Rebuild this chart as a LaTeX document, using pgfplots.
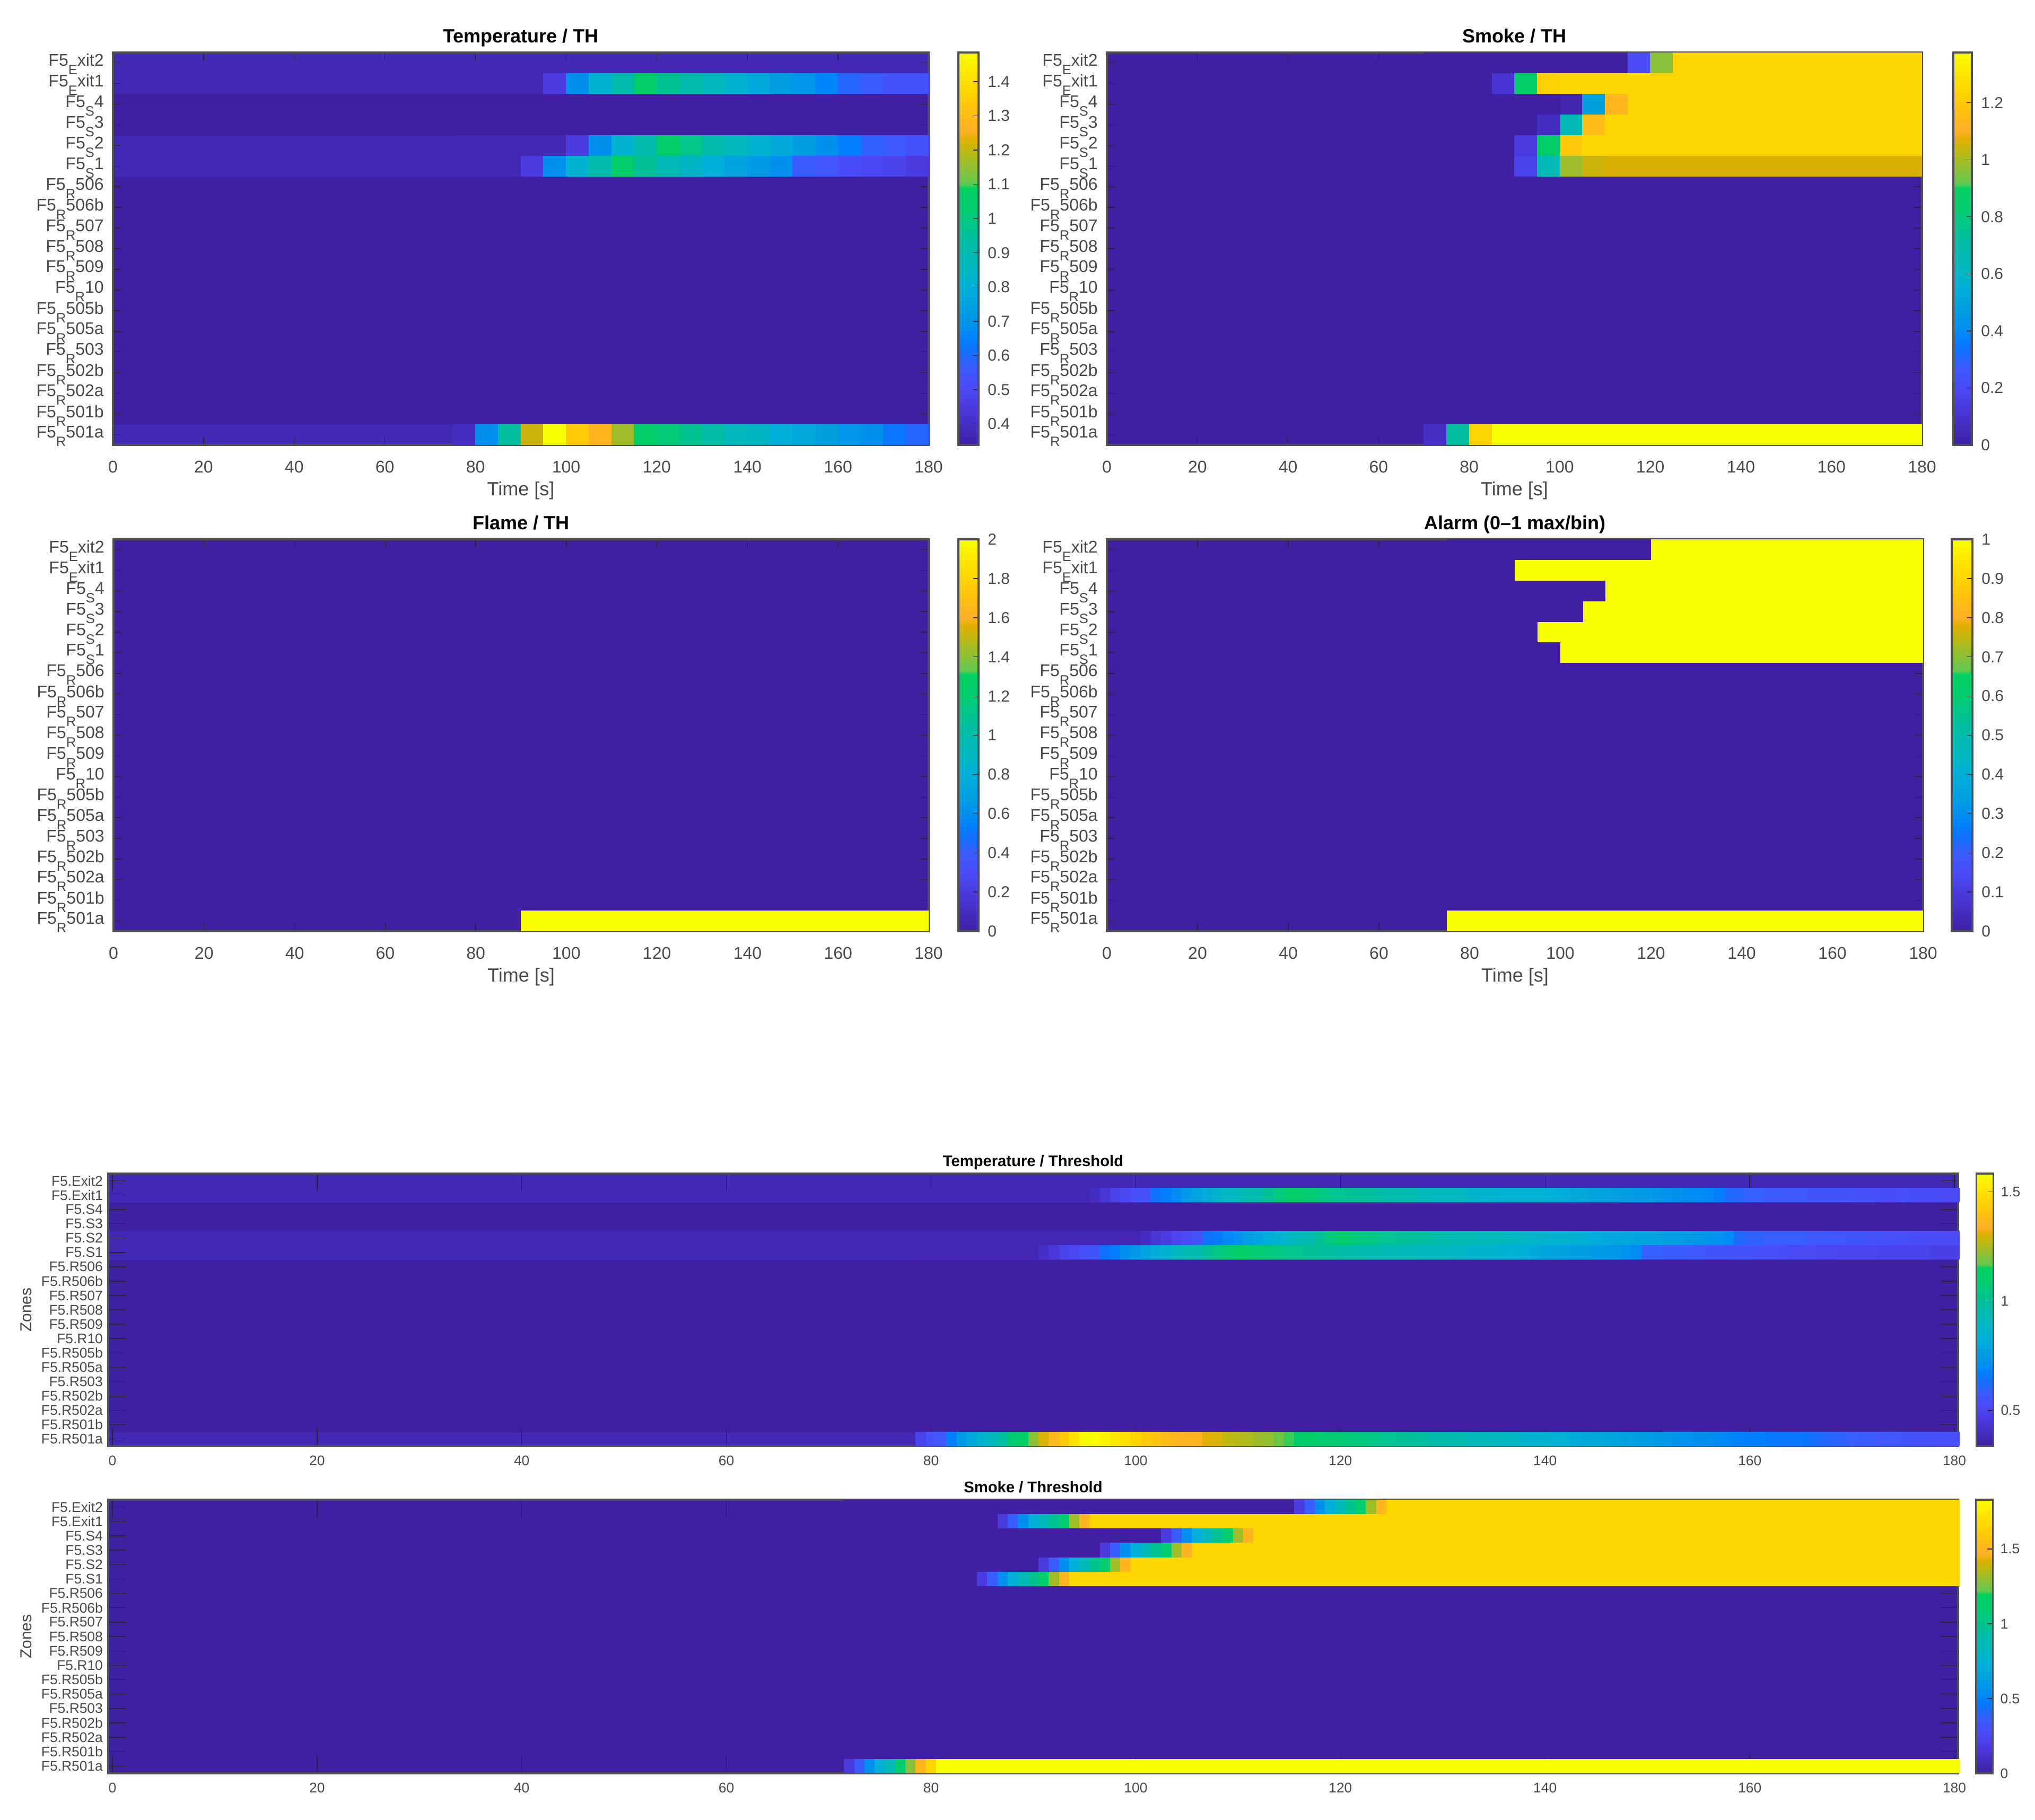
\documentclass[border=0pt]{standalone}
\usepackage{fontspec}
\setmainfont{Liberation Sans}
\usepackage{pgfplots}
\usepackage{pgfplotstable}
\pgfplotsset{compat=1.18}
\definecolor{lbl}{HTML}{484848}
\definecolor{tk}{HTML}{262626}
\definecolor{ax}{HTML}{505050}
\newcommand\sub[1]{\smash{\raisebox{-.5em}{\scalebox{.8}{#1}}}}
\newdimen\cellw \newdimen\cellh \newdimen\bandw
\pgfdeclareplotmark{cell}{\pgfpathrectangle{\pgfpoint{-\cellw}{-\cellh}}{\pgfpoint{2\cellw}{2\cellh}}\pgfusepathqfill}
\pgfdeclareplotmark{band}{\pgfpathrectangle{\pgfpoint{-\bandw}{-\cellh}}{\pgfpoint{2\bandw}{2\cellh}}\pgfusepathqfill}
\newcommand\cells[3]{\addplot[scatter,only marks,mark=cell,scatter src=explicit] table[x=t,y expr=#1,meta=#2]{#3};}
\pgfplotsset{
 colormap={cb}{rgb255(0pt)=(64,31,163); rgb255(10pt)=(74,59,224); rgb255(15pt)=(75,76,248); rgb255(20pt)=(58,92,255); rgb255(24pt)=(16,112,255); rgb255(27pt)=(0,128,255); rgb255(30pt)=(0,144,240); rgb255(35pt)=(0,160,224); rgb255(40pt)=(0,176,216); rgb255(45pt)=(0,184,192); rgb255(50pt)=(0,188,172); rgb255(55pt)=(0,196,144); rgb255(60pt)=(0,204,112); rgb255(65.5pt)=(0,208,96); rgb255(66.5pt)=(96,200,80); rgb255(70pt)=(136,192,56); rgb255(75pt)=(192,184,16); rgb255(78pt)=(224,176,0); rgb255(80pt)=(255,176,40); rgb255(85pt)=(255,192,16); rgb255(90pt)=(255,213,0); rgb255(95pt)=(255,232,0); rgb255(100pt)=(248,255,0)},
 heat/.style n args={4}{
  anchor=north west, scale only axis, at={(#1*0.25pt,-#2*0.25pt)},
  width={(#3-#1)*0.25pt}, height={(#4-#2)*0.25pt},
  ymin=0.5, ymax=19.5, ytick={1,...,19},
  xtick={0,20,...,180}, tick align=inside, tick pos=both, axis on top,
  /pgf/number format/assume math mode=true,
  axis line style={color=ax,line width=.8pt},
  tick style={color=tk,line width=.35pt},
  tick label style={color=lbl},
  title style={font=\fontsize{9}{10}\selectfont\bfseries,color=black},
  colorbar,
 },
 upper/.style={xmin=0,xmax=180,major tick length=3.75pt,
  tick label style={font=\fontsize{8}{9}\selectfont},
  xlabel={Time [s]},
  xlabel style={font=\fontsize{9}{10}\selectfont,color=lbl,at={(axis description cs:.5,-.1168)},anchor=center},
  title style={at={(axis description cs:.5,1)},anchor=base,yshift=-1.3pt},
  xticklabel style={yshift=-4pt},
  yticklabel style={xshift=-.8pt,yshift=1.25pt},
  yticklabels={F5\sub{R}501a,F5\sub{R}501b,F5\sub{R}502a,F5\sub{R}502b,F5\sub{R}503,F5\sub{R}505a,F5\sub{R}505b,F5\sub{R}10,F5\sub{R}509,F5\sub{R}508,F5\sub{R}507,F5\sub{R}506b,F5\sub{R}506,F5\sub{S}1,F5\sub{S}2,F5\sub{S}3,F5\sub{S}4,F5\sub{E}xit1,F5\sub{E}xit2},
 },
 lower/.style={xmin=-0.41,xmax=180.36,major tick length=8.25pt,
  tick label style={font=\fontsize{6.6}{8}\selectfont},
  title style={font=\fontsize{7.3}{8.5}\selectfont\bfseries,at={(axis description cs:.5,1)},anchor=base,yshift=-2.5pt},
  xticklabel style={yshift=-1pt},
  yticklabel style={xshift=1pt},
  ylabel={Zones},
  ylabel style={font=\fontsize{7.5}{9}\selectfont,color=lbl,at={(axis description cs:-.0444,.5)},anchor=center},
  yticklabels={F5.R501a,F5.R501b,F5.R502a,F5.R502b,F5.R503,F5.R505a,F5.R505b,F5.R10,F5.R509,F5.R508,F5.R507,F5.R506b,F5.R506,F5.S1,F5.S2,F5.S3,F5.S4,F5.Exit1,F5.Exit2},
 },
 cbs/.style n args={3}{
  colorbar shift/.style={xshift=#1*0.25pt},
  colorbar style={width=#2*0.25pt, ytick={#3}, ytick pos=right, tick align=inside, major tick length=2.5pt,
   /pgf/number format/assume math mode=true,
   /pgf/number format/fixed,
   axis line style={color=ax,line width=.8pt},
   tick style={color=tk,line width=.35pt},
   yticklabel style={font=\fontsize{7.5}{9}\selectfont,color=lbl,xshift=.8pt}},
 },
 cbl/.style n args={3}{
  colorbar shift/.style={xshift=#1*0.25pt},
  colorbar style={width=#2*0.25pt, ytick={#3}, ytick pos=right, tick align=inside, major tick length=2.5pt,
   /pgf/number format/assume math mode=true,
   /pgf/number format/fixed,
   axis line style={color=ax,line width=.8pt},
   tick style={color=tk,line width=.35pt},
   yticklabel style={font=\fontsize{6.6}{8}\selectfont,color=lbl}},
 },
}
% per-zone baseline values (two columns spanning the axis, one line per zone and column)
\pgfplotstableread{
x y z p1 p5
44.5 1 0 .373 .374
135.5 1 0 .373 .374
44.5 2 0 .339 .337
135.5 2 0 .339 .337
44.5 3 0 .339 .337
135.5 3 0 .339 .337
44.5 4 0 .339 .337
135.5 4 0 .339 .337
44.5 5 0 .339 .337
135.5 5 0 .339 .337
44.5 6 0 .339 .337
135.5 6 0 .339 .337
44.5 7 0 .339 .337
135.5 7 0 .339 .337
44.5 8 0 .339 .337
135.5 8 0 .339 .337
44.5 9 0 .339 .337
135.5 9 0 .339 .337
44.5 10 0 .339 .337
135.5 10 0 .339 .337
44.5 11 0 .339 .337
135.5 11 0 .339 .337
44.5 12 0 .339 .337
135.5 12 0 .339 .337
44.5 13 0 .339 .337
135.5 13 0 .339 .337
44.5 14 0 .373 .374
135.5 14 0 .373 .374
44.5 15 0 .373 .374
135.5 15 0 .373 .374
44.5 16 0 .339 .337
135.5 16 0 .339 .337
44.5 17 0 .339 .337
135.5 17 0 .339 .337
44.5 18 0 .373 .374
135.5 18 0 .373 .374
44.5 19 0 .373 .374
135.5 19 0 .373 .374
}\bg
% Temperature / TH, 5 s bins
\pgfplotstableread{
t E1 S2 S1 R
77.5 .373 .373 .373 .396
82.5 .373 .373 .373 .683
87.5 .373 .373 .373 .935
92.5 .373 .373 .454 1.21
97.5 .454 .373 .683 1.485
102.5 .683 .454 .82 1.347
107.5 .82 .683 .912 1.279
112.5 .912 .82 1.05 1.164
117.5 1.05 .912 .958 1.061
122.5 .969 1.05 .889 1.015
127.5 .912 .981 .843 .969
132.5 .866 .912 .797 .923
137.5 .82 .866 .752 .866
142.5 .774 .82 .717 .843
147.5 .729 .774 .683 .797
152.5 .706 .729 .568 .774
157.5 .66 .683 .545 .74
162.5 .591 .648 .522 .706
167.5 .568 .58 .499 .683
172.5 .534 .557 .477 .626
177.5 .534 .534 .454 .591
}\pone
% Smoke / TH, 5 s bins
\pgfplotstableread{
t E2 E1 S4 S3 S2 S1 R
72.5 0 0 0 0 0 0 .083
77.5 0 0 0 0 0 0 .716
82.5 0 0 0 0 0 0 1.238
87.5 0 .11 0 0 0 0 1.376
92.5 0 .853 0 0 .138 .165 1.376
97.5 0 1.225 0 .069 .853 .647 1.376
102.5 0 1.238 .028 .66 1.197 .991 1.376
107.5 0 1.238 .482 1.156 1.238 1.046 1.376
112.5 0 1.238 1.128 1.238 1.238 1.066 1.376
117.5 .206 1.238 1.238 1.238 1.238 1.066 1.376
122.5 .963 1.238 1.238 1.238 1.238 1.066 1.376
127.5 1.238 1.238 1.238 1.238 1.238 1.066 1.376
132.5 1.238 1.238 1.238 1.238 1.238 1.066 1.376
137.5 1.238 1.238 1.238 1.238 1.238 1.066 1.376
142.5 1.238 1.238 1.238 1.238 1.238 1.066 1.376
147.5 1.238 1.238 1.238 1.238 1.238 1.066 1.376
152.5 1.238 1.238 1.238 1.238 1.238 1.066 1.376
157.5 1.238 1.238 1.238 1.238 1.238 1.066 1.376
162.5 1.238 1.238 1.238 1.238 1.238 1.066 1.376
167.5 1.238 1.238 1.238 1.238 1.238 1.066 1.376
172.5 1.238 1.238 1.238 1.238 1.238 1.066 1.376
177.5 1.238 1.238 1.238 1.238 1.238 1.066 1.376
}\ptwo
% Flame / TH
\pgfplotstableread{
t R
92.5 2
97.5 2
102.5 2
107.5 2
112.5 2
117.5 2
122.5 2
127.5 2
132.5 2
137.5 2
142.5 2
147.5 2
152.5 2
157.5 2
162.5 2
167.5 2
172.5 2
177.5 2
}\pthree
% Alarm
\pgfplotstableread{
t E2 E1 S4 S3 S2 S1 R
77.5 0 0 0 0 0 0 1
82.5 0 0 0 0 0 0 1
87.5 0 0 0 0 0 0 1
92.5 0 1 0 0 0 0 1
97.5 0 1 0 0 1 0 1
102.5 0 1 0 0 1 1 1
107.5 0 1 0 1 1 1 1
112.5 0 1 1 1 1 1 1
117.5 0 1 1 1 1 1 1
122.5 1 1 1 1 1 1 1
127.5 1 1 1 1 1 1 1
132.5 1 1 1 1 1 1 1
137.5 1 1 1 1 1 1 1
142.5 1 1 1 1 1 1 1
147.5 1 1 1 1 1 1 1
152.5 1 1 1 1 1 1 1
157.5 1 1 1 1 1 1 1
162.5 1 1 1 1 1 1 1
167.5 1 1 1 1 1 1 1
172.5 1 1 1 1 1 1 1
177.5 1 1 1 1 1 1 1
}\pfour
% Temperature / Threshold, 1 s bins
\pgfplotstableread{
t E1 S2 S1 R
79 .37 .37 .37 .49
80 .37 .37 .37 .55
81 .37 .37 .37 .57
82 .37 .37 .37 .67
83 .37 .37 .37 .75
84 .37 .37 .37 .81
85 .37 .37 .37 .86
86 .37 .37 .37 .91
87 .37 .37 .37 .99
88 .37 .37 .37 1.08
89 .37 .37 .37 1.13
90 .37 .37 .37 1.21
91 .37 .37 .41 1.30
92 .37 .37 .45 1.37
93 .37 .37 .49 1.43
94 .37 .37 .51 1.50
95 .37 .37 .54 1.57
96 .40 .37 .56 1.58
97 .44 .37 .64 1.56
98 .49 .37 .67 1.52
99 .51 .37 .71 1.50
100 .54 .37 .75 1.46
101 .55 .40 .79 1.43
102 .64 .44 .82 1.41
103 .67 .47 .86 1.38
104 .70 .50 .90 1.36
105 .75 .52 .94 1.35
106 .79 .55 .96 1.35
107 .82 .64 1.00 1.31
108 .86 .66 1.05 1.30
109 .89 .69 1.08 1.27
110 .91 .72 1.13 1.26
111 .94 .76 1.11 1.25
112 .96 .79 1.08 1.23
113 1.01 .82 1.06 1.22
114 1.06 .86 1.05 1.18
115 1.11 .89 1.03 1.16
116 1.11 .92 1.02 1.11
117 1.08 .96 1.01 1.11
118 1.06 1.01 1.00 1.10
119 1.03 1.06 .99 1.08
120 1.02 1.11 .97 1.08
121 1.01 1.08 .96 1.07
122 1.00 1.06 .95 1.06
123 .99 1.05 .94 1.05
124 .97 1.03 .94 1.03
125 .96 1.02 .93 1.02
126 .95 1.01 .92 1.01
127 .94 1.00 .92 1.00
128 .92 .99 .91 .99
129 .91 .97 .91 .97
130 .90 .96 .90 .96
131 .90 .95 .89 .95
132 .89 .94 .88 .94
133 .87 .94 .87 .92
134 .87 .92 .87 .91
135 .86 .92 .86 .91
136 .85 .91 .85 .90
137 .85 .90 .84 .89
138 .84 .89 .83 .87
139 .84 .88 .81 .86
140 .84 .87 .79 .86
141 .83 .86 .79 .85
142 .82 .86 .78 .84
143 .81 .85 .77 .82
144 .80 .84 .77 .81
145 .79 .82 .75 .81
146 .78 .81 .75 .80
147 .77 .81 .74 .79
148 .76 .80 .72 .78
149 .75 .79 .70 .77
150 .75 .79 .59 .76
151 .74 .78 .59 .75
152 .72 .77 .58 .74
153 .71 .76 .58 .73
154 .70 .75 .58 .72
155 .70 .74 .57 .71
156 .69 .73 .56 .71
157 .67 .72 .56 .70
158 .62 .70 .55 .69
159 .61 .62 .55 .68
160 .59 .60 .55 .67
161 .59 .60 .54 .67
162 .58 .59 .54 .66
163 .58 .59 .53 .65
164 .57 .59 .52 .65
165 .57 .59 .52 .65
166 .56 .58 .52 .64
167 .56 .58 .51 .62
168 .56 .57 .51 .61
169 .55 .57 .50 .60
170 .55 .56 .50 .59
171 .54 .56 .50 .58
172 .54 .55 .50 .58
173 .53 .55 .49 .57
174 .53 .54 .49 .57
175 .54 .54 .49 .56
176 .53 .53 .49 .55
177 .53 .53 .49 .55
178 .53 .53 .48 .54
179 .52 .52 .48 .54
180 .52 .52 .48 .54
}\pfive
% Smoke / Threshold, 1 s bins
\pgfplotstableread{
t E2 E1 S4 S3 S2 S1 R
72 0 0 0 0 0 0 .18
73 0 0 0 0 0 0 .37
74 0 0 0 0 0 0 .55
75 0 0 0 0 0 0 .73
76 0 0 0 0 0 0 .86
77 0 0 0 0 0 0 1.10
78 0 0 0 0 0 0 1.28
79 0 0 0 0 0 0 1.50
80 0 0 0 0 0 0 1.65
81 0 0 0 0 0 0 1.83
82 0 0 0 0 0 0 1.83
83 0 0 0 0 0 0 1.83
84 0 0 0 0 0 0 1.83
85 0 0 0 0 0 .18 1.83
86 0 0 0 0 0 .37 1.83
87 0 .18 0 0 0 .55 1.83
88 0 .37 0 0 0 .73 1.83
89 0 .55 0 0 0 .86 1.83
90 0 .73 0 0 0 1.01 1.83
91 0 .86 0 0 .18 1.13 1.83
92 0 1.01 0 0 .37 1.32 1.83
93 0 1.13 0 0 .55 1.50 1.83
94 0 1.32 0 0 .73 1.65 1.83
95 0 1.50 0 0 .86 1.65 1.83
96 0 1.65 0 0 1.01 1.65 1.83
97 0 1.65 0 .18 1.13 1.65 1.83
98 0 1.65 0 .37 1.32 1.65 1.83
99 0 1.65 0 .55 1.50 1.65 1.83
100 0 1.65 0 .73 1.65 1.65 1.83
101 0 1.65 0 .86 1.65 1.65 1.83
102 0 1.65 0 1.01 1.65 1.65 1.83
103 0 1.65 .18 1.13 1.65 1.65 1.83
104 0 1.65 .37 1.32 1.65 1.65 1.83
105 0 1.65 .55 1.50 1.65 1.65 1.83
106 0 1.65 .73 1.65 1.65 1.65 1.83
107 0 1.65 .86 1.65 1.65 1.65 1.83
108 0 1.65 1.01 1.65 1.65 1.65 1.83
109 0 1.65 1.13 1.65 1.65 1.65 1.83
110 0 1.65 1.32 1.65 1.65 1.65 1.83
111 0 1.65 1.50 1.65 1.65 1.65 1.83
112 0 1.65 1.65 1.65 1.65 1.65 1.83
113 0 1.65 1.65 1.65 1.65 1.65 1.83
114 0 1.65 1.65 1.65 1.65 1.65 1.83
115 0 1.65 1.65 1.65 1.65 1.65 1.83
116 .18 1.65 1.65 1.65 1.65 1.65 1.83
117 .37 1.65 1.65 1.65 1.65 1.65 1.83
118 .55 1.65 1.65 1.65 1.65 1.65 1.83
119 .73 1.65 1.65 1.65 1.65 1.65 1.83
120 .86 1.65 1.65 1.65 1.65 1.65 1.83
121 1.01 1.65 1.65 1.65 1.65 1.65 1.83
122 1.13 1.65 1.65 1.65 1.65 1.65 1.83
123 1.32 1.65 1.65 1.65 1.65 1.65 1.83
124 1.50 1.65 1.65 1.65 1.65 1.65 1.83
125 1.65 1.65 1.65 1.65 1.65 1.65 1.83
}\psix
\begin{document}
\begin{tikzpicture}
\path[use as bounding box] (0,0) rectangle (959.25pt,-857.75pt);
% --- Temperature / TH
\begin{axis}[heat={213}{99}{1751}{839},upper,title={Temperature / TH},point meta min=.339,point meta max=1.485,
  cbs={16}{38}{.4,.5,.6,.7,.8,.9,1,1.1,1.2,1.3,1.4}]
\setlength\cellw{5.4pt}\setlength\cellh{4.87pt}
\addplot[matrix plot*,mesh/cols=2,point meta=\thisrow{p1}] table[x=x,y=y]{\bg};
\cells{18}{E1}{\pone}\cells{15}{S2}{\pone}\cells{14}{S1}{\pone}\cells{1}{R}{\pone}
\end{axis}
% --- Smoke / TH
\begin{axis}[heat={2087}{99}{3624}{839},upper,title={Smoke / TH},point meta min=0,point meta max=1.376,
  cbs={19}{35}{0,.2,.4,.6,.8,1,1.2}]
\setlength\cellw{5.4pt}\setlength\cellh{4.87pt}
\addplot[matrix plot*,mesh/cols=2,point meta=\thisrow{z}] table[x=x,y=y]{\bg};
\cells{19}{E2}{\ptwo}\cells{18}{E1}{\ptwo}\cells{17}{S4}{\ptwo}\cells{16}{S3}{\ptwo}\cells{15}{S2}{\ptwo}\cells{14}{S1}{\ptwo}\cells{1}{R}{\ptwo}
\end{axis}
% --- Flame / TH
\begin{axis}[heat={214}{1017}{1751}{1756},upper,title={Flame / TH},point meta min=0,point meta max=2,
  cbs={16}{38}{0,.2,.4,.6,.8,1,1.2,1.4,1.6,1.8,2}]
\setlength\cellw{5.4pt}\setlength\cellh{4.87pt}
\addplot[matrix plot*,mesh/cols=2,point meta=\thisrow{z}] table[x=x,y=y]{\bg};
\cells{1}{R}{\pthree}
\end{axis}
% --- Alarm
\begin{axis}[heat={2087}{1017}{3626}{1756},upper,title={Alarm (0–1 max/bin)},point meta min=0,point meta max=1,
  cbs={14}{39}{0,.1,.2,.3,.4,.5,.6,.7,.8,.9,1}]
\setlength\cellw{5.4pt}\setlength\cellh{4.87pt}
\addplot[matrix plot*,mesh/cols=2,point meta=\thisrow{z}] table[x=x,y=y]{\bg};
\cells{19}{E2}{\pfour}\cells{18}{E1}{\pfour}\cells{17}{S4}{\pfour}\cells{16}{S3}{\pfour}\cells{15}{S2}{\pfour}\cells{14}{S1}{\pfour}\cells{1}{R}{\pfour}
\end{axis}
% --- Temperature / Threshold
\begin{axis}[heat={204}{2213}{3692}{2727},lower,title={Temperature / Threshold},point meta min=.337,point meta max=1.583,
  cbl={6}{32}{.5,1,1.5}]
\setlength\cellw{2.47pt}\setlength\cellh{3.39pt}
\addplot[matrix plot*,mesh/cols=2,point meta=\thisrow{p5}] table[x=x,y=y]{\bg};
\cells{18}{E1}{\pfive}\cells{15}{S2}{\pfive}\cells{14}{S1}{\pfive}\cells{1}{R}{\pfive}
\end{axis}
% --- Smoke / Threshold
\begin{axis}[heat={204}{2828}{3692}{3344},lower,title={Smoke / Threshold},point meta min=0,point meta max=1.829,
  cbl={5}{32}{0,.5,1,1.5}]
\setlength\cellw{2.47pt}\setlength\cellh{3.4pt}\setlength\bandw{132.7pt}
\addplot[matrix plot*,mesh/cols=2,point meta=\thisrow{z}] table[x=x,y=y]{\bg};
\cells{19}{E2}{\psix}\cells{18}{E1}{\psix}\cells{17}{S4}{\psix}\cells{16}{S3}{\psix}\cells{15}{S2}{\psix}\cells{14}{S1}{\psix}\cells{1}{R}{\psix}
\addplot[scatter,only marks,mark=band,scatter src=explicit] table[x=t,y=y,meta=v]{
t y v
153 19 1.65
153 18 1.65
153 17 1.65
153 16 1.65
153 15 1.65
153 14 1.65
153 1 1.83
};
\end{axis}
\end{tikzpicture}
\end{document}
